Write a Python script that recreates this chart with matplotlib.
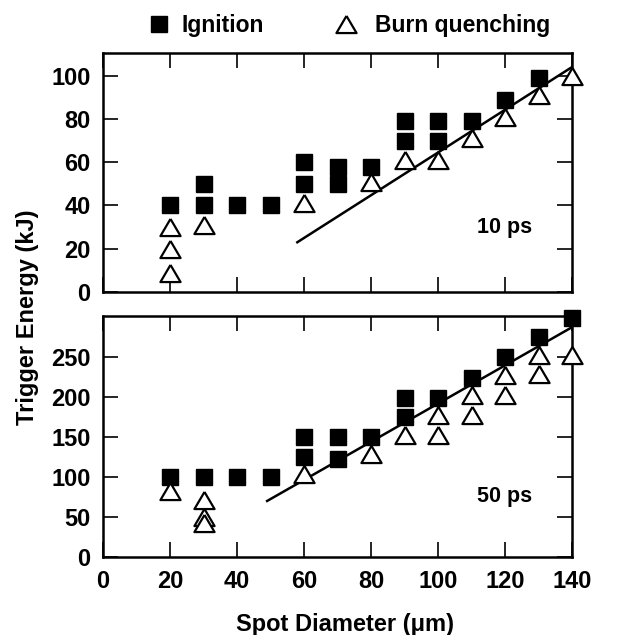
import matplotlib
matplotlib.use("Agg")
import matplotlib.pyplot as plt
from matplotlib.lines import Line2D

plt.rcParams['font.family'] = ['Liberation Sans', 'DejaVu Sans']
plt.rcParams['font.weight'] = 'bold'

# ---- 10 ps pulse ----
ign10_x = [20, 30, 30, 40, 50, 60, 60, 70, 70, 80, 90, 90, 100, 100, 110, 120, 130]
ign10_y = [40, 40, 50, 40, 40, 50, 60, 50, 58, 58, 70, 79, 70, 79, 79, 89, 99]
bq10_x = [20, 20, 20, 30, 60, 80, 90, 100, 110, 120, 130, 140]
bq10_y = [30, 20, 9, 31, 41, 51, 61, 61, 71, 81, 91, 100]
fit10_x = [58, 140]
fit10_y = [23, 104]

# ---- 50 ps pulse ----
ign50_x = [20, 30, 40, 50, 60, 60, 70, 70, 80, 90, 90, 100, 110, 120, 130, 140]
ign50_y = [100, 100, 100, 100, 150, 125, 150, 123, 150, 198, 175, 199, 224, 250, 275, 299]
bq50_x = [20, 30, 30, 30, 60, 80, 90, 100, 100, 110, 110, 120, 120, 130, 130, 140]
bq50_y = [83, 71, 50, 42, 104, 129, 152, 177, 152, 202, 177, 227, 202, 252, 229, 252]
fit50_x = [49, 140]
fit50_y = [70, 287]

xticks = [0, 20, 40, 60, 80, 100, 120, 140]
yticks10 = [0, 20, 40, 60, 80, 100]
yticks50 = [0, 50, 100, 150, 200, 250]

# open triangle, slightly flatter than equilateral, closed outline
tri = [(0, 0.85), (-1, -0.85), (1, -0.85), (0, 0.85)]
sq_kw = dict(marker='s', ms=12, color='black', linestyle='none')
tri_kw = dict(marker=tri, ms=14.5, mfc='white', mec='black', mew=1.6,
              linestyle='none')

fig = plt.figure(figsize=(6.2, 6.35), dpi=100)
W, H = 620, 635
L, R = 103, 572
ax1 = fig.add_axes([L / W, 1 - 292 / H, (R - L) / W, (292 - 53) / H])
ax2 = fig.add_axes([L / W, 1 - 557 / H, (R - L) / W, (557 - 316) / H])


def style(ax, yticks, ylim, show_x):
    ax.set_xlim(0, 140)
    ax.set_ylim(*ylim)
    ax.set_xticks(xticks)
    ax.set_yticks(yticks)
    ax.tick_params(direction='in', length=11, width=1.2, top=True, right=True,
                   labelsize=17, pad=9)
    if not show_x:
        ax.tick_params(labelbottom=False)
    for s in ax.spines.values():
        s.set_linewidth(1.8)
    for lab in ax.get_xticklabels() + ax.get_yticklabels():
        lab.set_fontweight('bold')


ax1.plot(fit10_x, fit10_y, color='black', lw=1.8, zorder=2)
ax1.plot(ign10_x, ign10_y, zorder=3, clip_on=False, **sq_kw)
ax1.plot(bq10_x, bq10_y, zorder=4, clip_on=False, **tri_kw)
style(ax1, yticks10, (0, 110.5), False)
ax1.text(120, 30, '10 ps', ha='center', va='center', fontsize=15.5, fontweight='bold')

ax2.plot(fit50_x, fit50_y, color='black', lw=1.8, zorder=2)
ax2.plot(ign50_x, ign50_y, zorder=3, clip_on=False, **sq_kw)
ax2.plot(bq50_x, bq50_y, zorder=4, clip_on=False, **tri_kw)
style(ax2, yticks50, (0, 301), True)
ax2.text(120, 76, '50 ps', ha='center', va='center', fontsize=15.5, fontweight='bold')

fig.text(345 / W, 1 - 624 / H, 'Spot Diameter (\u03bcm)', ha='center', va='center',
         fontsize=17, fontweight='bold')
fig.text(28 / W, 1 - 317 / H, 'Trigger Energy (kJ)', ha='center', va='center',
         rotation=90, fontsize=17, fontweight='bold')

# legend row above the panels
fig.add_artist(Line2D([159 / W], [1 - 24 / H], transform=fig.transFigure, **sq_kw))
fig.text(182 / W, 1 - 32 / H, 'Ignition', ha='left', va='baseline',
         fontsize=16.5, fontweight='bold')
fig.add_artist(Line2D([346 / W], [1 - 24 / H], transform=fig.transFigure, **tri_kw))
fig.text(375 / W, 1 - 32 / H, 'Burn quenching', ha='left', va='baseline',
         fontsize=16.5, fontweight='bold')

fig.savefig('out.png', dpi=100)
